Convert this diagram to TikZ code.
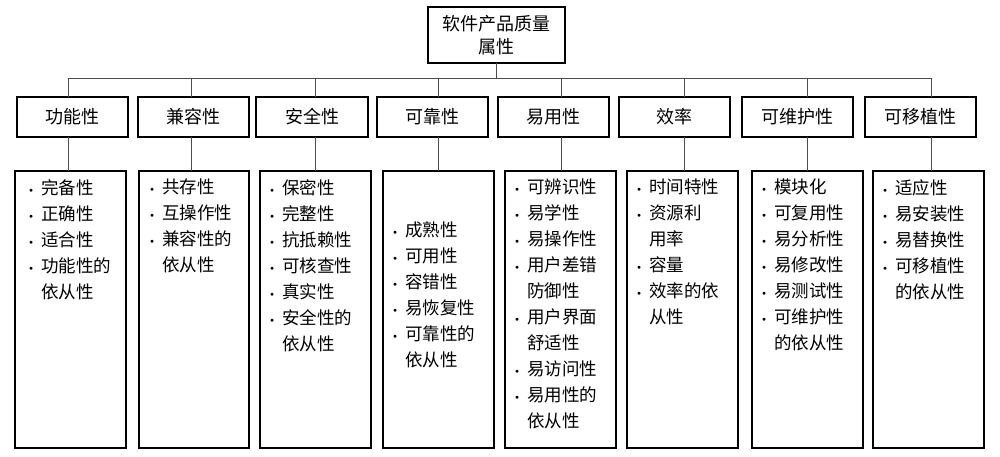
\documentclass[tikz,border=0pt]{standalone}
\usepackage{fontspec}
\setmainfont{Noto Sans CJK SC}
\newfontfamily\cjk{Noto Sans CJK SC}
\newcommand\bl{\makebox[12pt][l]{\raisebox{2pt}{\scriptsize$\bullet$}}}
\newcommand\ind{\hspace*{12pt}}
\begin{document}
\begin{tikzpicture}[x=1pt,y=-1pt,
  bx/.style={draw=black,line width=1.6pt},
  cat/.style={font=\fontsize{18}{22}\selectfont},
  lst/.style={anchor=north west,inner sep=0pt,align=left,font=\fontsize{17.5}{26}\selectfont},
  ln/.style={draw=black!70,line width=0.7pt}]
\useasboundingbox (0,0) rectangle (1000,456);
\draw[bx] (428,7) rectangle (565,63);
\node[font=\fontsize{18}{23}\selectfont,align=center] (root) at (496.5,35) {软件产品质量\\属性};
\coordinate (rb) at (496.5,63);
\coordinate (bus) at (496.5,78);
\draw[ln] (rb) -- (bus);
\draw[ln] (68,78) -- (931,78);
\foreach \l/\r/\t/\dl/\dr/\cx [count=\i] in {
 17/128/功能性/15/126/68, 138/249/兼容性/139/249/191, 256/368/安全性/260/371/315,
 377/488/可靠性/383/494/438, 498/609/易用性/505/616/561, 619/730/效率/627/738/684,
 742/853/可维护性/752/863/807, 865/976/可移植性/873/984/931}{
  \draw[bx] (\l,97) rectangle (\r,137);
  \node[cat] (c\i) at ({(\l+\r)/2},117) {\t};
  \draw[bx] (\dl,171) rectangle (\dr,448);
  \coordinate (t\i) at (\cx,78);
  \coordinate (ct\i) at (\cx,97);
  \coordinate (cb\i) at (\cx,137);
  \coordinate (d\i) at (\cx,171);
  \draw[ln] (t\i) -- (ct\i);
  \draw[ln] (cb\i) -- (d\i);
}
\node[lst] (l1) at (29,179) {\bl 完备性\\\bl 正确性\\\bl 适合性\\\bl 功能性的\\\ind 依从性};
\node[lst] (l2) at (150,179) {\bl 共存性\\\bl 互操作性\\\bl 兼容性的\\\ind 依从性};
\node[lst] (l3) at (270,179) {\bl 保密性\\\bl 完整性\\\bl 抗抵赖性\\\bl 可核查性\\\bl 真实性\\\bl 安全性的\\\ind 依从性};
\node[lst] (l4) at (393,222) {\bl 成熟性\\\bl 可用性\\\bl 容错性\\\bl 易恢复性\\\bl 可靠性的\\\ind 依从性};
\node[lst] (l5) at (515,179) {\bl 可辨识性\\\bl 易学性\\\bl 易操作性\\\bl 用户差错\\\ind 防御性\\\bl 用户界面\\\ind 舒适性\\\bl 易访问性\\\bl 易用性的\\\ind 依从性};
\node[lst] (l6) at (637,179) {\bl 时间特性\\\bl 资源利\\\ind 用率\\\bl 容量\\\bl 效率的依\\\ind 从性};
\node[lst] (l7) at (762,179) {\bl 模块化\\\bl 可复用性\\\bl 易分析性\\\bl 易修改性\\\bl 易测试性\\\bl 可维护性\\\ind 的依从性};
\node[lst] (l8) at (883,179) {\bl 适应性\\\bl 易安装性\\\bl 易替换性\\\bl 可移植性\\\ind 的依从性};
\end{tikzpicture}
\end{document}
